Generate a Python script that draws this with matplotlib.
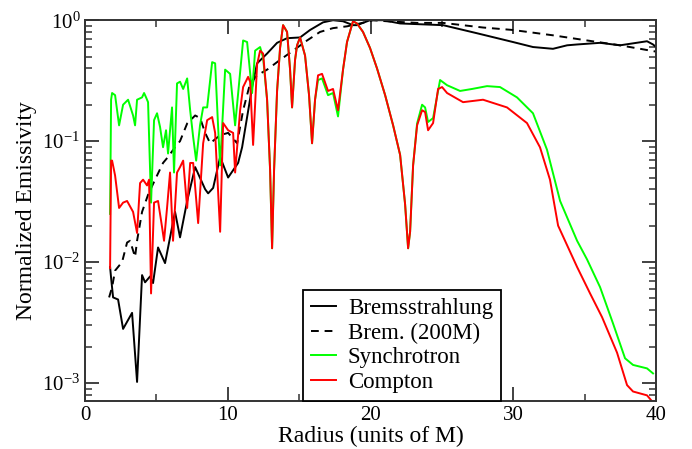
import matplotlib
matplotlib.use("Agg")
import matplotlib.pyplot as plt
from matplotlib.ticker import MultipleLocator, LogLocator, NullFormatter

# radius (units of M) and normalized emissivity
brem_r = [1.75, 1.82, 1.96, 2.31, 2.66, 3.29, 3.64, 3.99, 4.20, 4.55,
          4.76, 5.11, 5.60, 6.30, 6.65, 7.15, 7.71, 8.41, 8.62, 8.97,
          9.46, 10.02, 10.72, 11.0, 11.35, 11.70, 12.05, 12.75, 13.45, 14.15,
          15.06, 15.76, 16.67, 17.37, 18.07, 18.77, 19.05, 19.96, 20.88, 22.07,
          25.08, 27.46, 29.98, 31.38, 32.78, 33.77, 34.47, 36.08, 37.48, 39.37,
          39.79, 40.0]
brem = [9.1e-3, 7.4e-3, 5.1e-3, 4.9e-3, 2.8e-3, 3.8e-3, 1.02e-3, 7.8e-3, 6.8e-3, 7.6e-3,
        6.7e-3, 1.32e-2, 9.8e-3, 2.6e-2, 1.6e-2, 3.2e-2, 6.1e-2, 4.0e-2, 3.7e-2, 4.1e-2,
        7.4e-2, 5.0e-2, 6.6e-2, 8.9e-2, 0.158, 0.28, 0.44, 0.53, 0.65, 0.71,
        0.72, 0.83, 0.96, 1.0, 0.98, 0.91, 0.91, 1.0, 1.0, 0.94,
        0.91, 0.78, 0.66, 0.60, 0.58, 0.62, 0.63, 0.65, 0.62, 0.67,
        0.63, 0.60]

brem200_r = [1.68, 1.89, 2.10, 2.24, 2.59, 2.94, 3.15, 3.50, 3.64, 3.99,
             4.41, 4.90, 5.46, 5.81, 6.30, 6.65, 7.15, 7.71, 8.06, 8.41,
             8.76, 9.46, 10.02, 10.65, 11.07, 11.56, 12.05, 12.75, 13.66, 14.57,
             15.55, 16.46, 17.37, 18.35, 19.26, 20.17, 21.16, 23.26, 25.08, 27.88,
             29.98, 32.78, 35.17, 37.48, 40.0]
brem200 = [5.1e-3, 6.2e-3, 8.5e-3, 8.9e-3, 1.0e-2, 1.45e-2, 1.5e-2, 1.1e-2, 1.5e-2, 2.6e-2,
           3.6e-2, 4.8e-2, 6.6e-2, 7.4e-2, 8.9e-2, 0.10, 0.14, 0.163, 0.155, 0.117,
           0.096, 0.112, 0.117, 0.096, 0.18, 0.30, 0.35, 0.39, 0.47, 0.56,
           0.68, 0.80, 0.86, 0.89, 0.94, 1.0, 0.98, 0.95, 0.95, 0.87,
           0.83, 0.75, 0.68, 0.62, 0.55]

syn_r = [1.75, 1.82, 1.89, 2.10, 2.38, 2.66, 3.01, 3.36, 3.50, 3.64,
         3.99, 4.13, 4.27, 4.41, 4.62, 4.83, 5.04, 5.25, 5.46, 5.67,
         5.81, 6.09, 6.23, 6.44, 6.65, 6.87, 7.15, 7.36, 7.57, 7.78,
         8.05, 8.27, 8.55, 8.90, 9.11, 9.32, 9.46, 9.81, 10.16, 10.51,
         11.07, 11.35, 11.70, 11.91, 12.26, 12.47,
         12.75, 12.96, 13.10, 13.24, 13.45, 13.66, 13.87, 14.15, 14.36, 14.50,
         14.71, 14.85, 15.06, 15.41, 15.69, 15.90, 16.11, 16.32, 16.60, 17.02,
         17.37, 17.72, 18.07, 18.35, 18.77, 19.05, 19.47, 19.96, 20.45, 21.02,
         21.58, 22.07, 22.42, 22.63, 22.77, 22.98, 23.26, 23.61, 23.82, 24.03,
         24.38, 24.87, 25.36, 26.27, 27.11, 28.16, 29.07, 30.26, 31.38, 32.36,
         33.28, 34.47, 35.17, 36.08, 36.99, 37.83, 38.39, 39.37, 39.79]
syn = [2.5e-2, 0.22, 0.25, 0.24, 0.135, 0.20, 0.22, 0.163, 0.135, 0.22,
       0.23, 0.25, 0.23, 0.21, 3.1e-2, 0.149, 0.17, 0.131, 8.9e-2, 0.123,
       7.9e-2, 0.19, 5.5e-2, 0.30, 0.31, 0.27, 0.33, 0.18, 0.108, 6.9e-2,
       0.135, 0.19, 0.19, 0.45, 0.44, 0.13, 6.3e-2, 0.39, 0.36, 0.135,
       0.68, 0.66, 0.25, 0.56, 0.60, 0.49,
       0.22, 5.8e-2, 1.3e-2, 5.8e-2, 0.26, 0.59, 0.91, 0.80, 0.39, 0.19,
       0.47, 0.62, 0.72, 0.51, 0.24, 9.6e-2, 0.22, 0.32, 0.33, 0.24,
       0.25, 0.16, 0.39, 0.66, 0.98, 0.94, 0.80, 0.59, 0.40, 0.24,
       0.135, 7.7e-2, 3.0e-2, 1.3e-2, 1.78e-2, 6.3e-2, 0.14, 0.20, 0.19, 0.144,
       0.155, 0.32, 0.29, 0.26, 0.27, 0.285, 0.28, 0.23, 0.17, 8.5e-2,
       3.2e-2, 1.5e-2, 1.05e-2, 6.2e-3, 3.1e-3, 1.6e-3, 1.41e-3, 1.32e-3, 1.2e-3]

comp_r = [1.75, 1.82, 1.89, 2.10, 2.38, 2.66, 2.94, 3.36, 3.64, 3.85,
          4.06, 4.34, 4.48, 4.62, 4.83, 5.11, 5.39, 5.53, 5.74, 5.95,
          6.16, 6.44, 6.65, 6.87, 7.15, 7.36, 7.57, 7.92, 8.27, 8.55,
          8.90, 9.11, 9.46, 9.67, 10.02, 10.37, 10.51, 10.86, 11.07, 11.42,
          11.56, 11.77, 12.05, 12.26, 12.47, 12.75, 12.96, 13.10, 13.24, 13.45,
          13.66, 13.87, 14.15, 14.36, 14.50, 14.71, 14.85, 15.06, 15.41, 15.69,
          15.90, 16.11, 16.32, 16.60, 17.02, 17.37, 17.72, 18.07, 18.35, 18.77,
          19.05, 19.47, 19.96, 20.45, 21.02, 21.58, 22.07, 22.42, 22.63, 22.77,
          22.98, 23.26, 23.61, 23.82, 24.03, 24.38, 24.73, 25.01, 25.36, 26.48,
          27.88, 29.56, 30.96, 31.87, 32.57, 33.14, 34.47, 35.38, 36.22, 37.27,
          37.97, 38.39, 39.37, 39.79]
comp = [8.9e-3, 6.9e-2, 6.9e-2, 5.2e-2, 2.8e-2, 3.1e-2, 3.2e-2, 2.6e-2, 1.74e-2, 4.5e-2,
        4.8e-2, 4.3e-2, 4.8e-2, 5.5e-3, 3.1e-2, 3.2e-2, 1.95e-2, 1.5e-2, 2.8e-2, 5.5e-2,
        1.5e-2, 5.5e-2, 6.1e-2, 6.9e-2, 2.8e-2, 6.6e-2, 6.6e-2, 2.1e-2, 9.6e-2, 0.149,
        0.158, 0.117, 1.78e-2, 0.141, 0.123, 0.117, 5.5e-2, 0.18, 0.28, 0.34,
        0.31, 9.3e-2, 0.43, 0.56, 0.53, 0.22, 5.8e-2, 1.3e-2, 5.8e-2, 0.26,
        0.59, 0.91, 0.80, 0.39, 0.19, 0.47, 0.62, 0.72, 0.51, 0.24,
        9.6e-2, 0.22, 0.35, 0.36, 0.26, 0.27, 0.18, 0.39, 0.66, 0.98,
        0.94, 0.80, 0.59, 0.40, 0.24, 0.135, 7.7e-2, 3.0e-2, 1.3e-2, 1.78e-2,
        6.3e-2, 0.135, 0.18, 0.174, 0.123, 0.141, 0.27, 0.28, 0.25, 0.21,
        0.22, 0.19, 0.141, 8.9e-2, 4.8e-2, 2.0e-2, 9.1e-3, 5.5e-3, 3.5e-3, 1.78e-3,
        9.6e-4, 8.5e-4, 7.9e-4, 6.9e-4]

plt.rcParams.update({
    "font.family": "Liberation Serif",
    "mathtext.fontset": "custom",
    "mathtext.rm": "Liberation Serif",
    "mathtext.it": "Liberation Serif:italic",
    "figure.facecolor": "white",
    "axes.facecolor": "white",
})

fig = plt.figure(figsize=(6.92, 4.49), dpi=100)
ax = fig.add_axes([0.123, 0.107, 0.825, 0.848])

lw = 1.4
ax.plot(brem_r, brem, color="black", lw=lw, label="Bremsstrahlung")
ax.plot(brem200_r, brem200, color="black", lw=lw, linestyle=(0, (4, 3)), label="Brem. (200M)")
ax.plot(syn_r, syn, color="#00ff00", lw=lw, label="Synchrotron")
ax.plot(comp_r, comp, color="#ff0000", lw=lw, label="Compton")

ax.set_yscale("log")
ax.set_xlim(0, 40)
ax.set_ylim(7.1e-4, 1.0)
ax.xaxis.set_major_locator(MultipleLocator(10))
ax.xaxis.set_minor_locator(MultipleLocator(5))
ax.yaxis.set_major_locator(LogLocator(base=10, numticks=10))
ax.yaxis.set_minor_locator(LogLocator(base=10, subs=range(2, 10), numticks=20))
ax.yaxis.set_minor_formatter(NullFormatter())

for side in ax.spines.values():
    side.set_color("#333333")
    side.set_linewidth(1.4)
ax.tick_params(which="both", direction="in", top=True, right=True,
               colors="#333333", labelcolor="black", labelsize=15)
ax.tick_params(which="major", length=10, width=1.3)
ax.tick_params(which="minor", length=5, width=1.1)

ax.set_xlabel("Radius (units of M)", fontsize=17, labelpad=1)
ax.set_ylabel("Normalized Emissivity", fontsize=17, labelpad=4)

leg = ax.legend(loc="lower left", bbox_to_anchor=(0.382, 0.0), borderaxespad=0,
                fontsize=16.5, fancybox=False, framealpha=1, edgecolor="black",
                handlelength=1.1, handletextpad=0.5, labelspacing=0.15,
                borderpad=0.35)
leg.get_frame().set_linewidth(1.3)

fig.savefig("out.png", dpi=100)
